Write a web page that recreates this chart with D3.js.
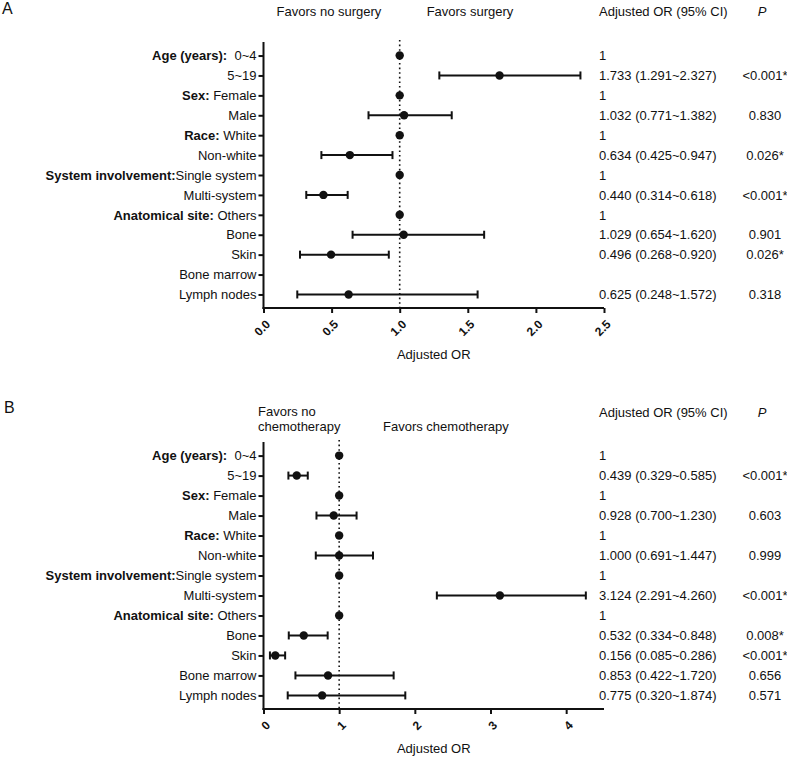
<!DOCTYPE html>
<html>
<head>
<meta charset="utf-8">
<script src="https://cdn.jsdelivr.net/npm/d3@7"></script>
<style>
  body { margin: 0; background: #fff; }
  text { font-family: "Liberation Sans", Arial, sans-serif; fill: #111; }
</style>
</head>
<body>
<script>
// rows shared by both panels
var rowLabels = ["0~4", "5~19", "Female", "Male", "White", "Non-white", "Single system",
                 "Multi-system", "Others", "Bone", "Skin", "Bone marrow", "Lymph nodes"];
var groupLabels = ["Age (years):\u00a0\u00a0", "", "Sex: ", "", "Race: ", "", "System involvement:",
                   "", "Anatomical site: ", "", "", "", ""];

// panel A: surgery (null = not estimated, 1 with null CI = reference)
var orA = [1, 1.733, 1, 1.032, 1, 0.634, 1, 0.440, 1, 1.029, 0.496, null, 0.625];
var loA = [null, 1.291, null, 0.771, null, 0.425, null, 0.314, null, 0.654, 0.268, null, 0.248];
var hiA = [null, 2.327, null, 1.382, null, 0.947, null, 0.618, null, 1.620, 0.920, null, 1.572];
var pA = ["", "<0.001*", "", "0.830", "", "0.026*", "", "<0.001*", "", "0.901", "0.026*", "", "0.318"];
var ticksA = [0, 0.5, 1, 1.5, 2, 2.5];

// panel B: chemotherapy
var orB = [1, 0.439, 1, 0.928, 1, 1.000, 1, 3.124, 1, 0.532, 0.156, 0.853, 0.775];
var loB = [null, 0.329, null, 0.700, null, 0.691, null, 2.291, null, 0.334, 0.085, 0.422, 0.320];
var hiB = [null, 0.585, null, 1.230, null, 1.447, null, 4.260, null, 0.848, 0.286, 1.720, 1.874];
var pB = ["", "<0.001*", "", "0.603", "", "0.999", "", "<0.001*", "", "0.008*", "<0.001*", "0.656", "0.571"];
var ticksB = [0, 1, 2, 3, 4];

var svg = d3.select("body").append("svg")
    .attr("width", 787)
    .attr("height", 757);

var f3 = d3.format(".3f");

function drawPanel(o) {
    var g = svg.append("g");
    var rows = rowLabels.map(function(l, i) {
        return { i: i, label: l, group: groupLabels[i], or: o.or[i], lo: o.lo[i], hi: o.hi[i], p: o.p[i] };
    });

    var x = d3.scaleLinear().domain(o.domain).range(o.xRange);
    var y = d3.scalePoint().domain(d3.range(rows.length)).range(o.yRange).padding(0.68);

    // axes
    var yAxis = g.append("g")
        .attr("transform", "translate(" + o.xRange[0] + ",0)")
        .call(d3.axisLeft(y).tickSize(5).tickFormat("").tickSizeOuter(0));
    var xAxis = g.append("g")
        .attr("transform", "translate(0," + o.yRange[1] + ")")
        .call(d3.axisBottom(x).tickValues(o.ticks).tickSize(5).tickSizeOuter(0).tickFormat(o.fmt));
    [yAxis, xAxis].forEach(function(a) {
        a.select(".domain").attr("stroke", "#111").attr("stroke-width", 2);
        a.selectAll(".tick line").attr("stroke", "#111").attr("stroke-width", 2);
    });
    yAxis.select(".domain").attr("d", "M0," + o.yRange[0] + "V" + (o.yRange[1] + 1));
    xAxis.select(".domain").attr("d", "M" + (o.xRange[0] - 1) + ",0H" + o.xRange[1]);
    xAxis.selectAll(".tick text")
        .attr("font-size", 12)
        .attr("font-weight", "bold")
        .attr("text-anchor", "end")
        .attr("y", 0)
        .attr("dy", "0.35em")
        .attr("transform", "translate(4,14) rotate(-45)");

    g.append("text")
        .attr("x", (o.xRange[0] + o.xRange[1]) / 2)
        .attr("y", o.titleY)
        .attr("text-anchor", "middle")
        .attr("font-size", 13)
        .text("Adjusted OR");

    // reference line at OR = 1
    g.append("line")
        .attr("x1", x(1)).attr("x2", x(1))
        .attr("y1", o.yRange[0] - 2).attr("y2", o.yRange[1])
        .attr("stroke", "#111")
        .attr("stroke-width", 1.6)
        .attr("stroke-dasharray", "1.6,3");

    // row labels
    var lab = g.selectAll(".rowlab")
        .data(rows)
        .enter()
        .append("text")
        .attr("class", "rowlab")
        .attr("x", o.xRange[0] - 7)
        .attr("y", function(d) { return y(d.i); })
        .attr("dy", "0.36em")
        .attr("text-anchor", "end")
        .attr("font-size", 13);
    lab.append("tspan").attr("font-weight", "bold").text(function(d) { return d.group; });
    lab.append("tspan").text(function(d) { return d.label; });

    // error bars
    var ci = rows.filter(function(d) { return d.lo != null; });
    var cig = g.selectAll(".ci").data(ci).enter().append("g").attr("class", "ci")
        .attr("stroke", "#111").attr("stroke-width", 2);
    cig.append("line")
        .attr("x1", function(d) { return x(d.lo); })
        .attr("x2", function(d) { return x(d.hi); })
        .attr("y1", function(d) { return y(d.i); })
        .attr("y2", function(d) { return y(d.i); });
    ["lo", "hi"].forEach(function(k) {
        cig.append("line")
            .attr("x1", function(d) { return x(d[k]); })
            .attr("x2", function(d) { return x(d[k]); })
            .attr("y1", function(d) { return y(d.i) - 4; })
            .attr("y2", function(d) { return y(d.i) + 4; });
    });

    // points
    g.selectAll(".pt")
        .data(rows.filter(function(d) { return d.or != null; }))
        .enter()
        .append("circle")
        .attr("class", "pt")
        .attr("cx", function(d) { return x(d.or); })
        .attr("cy", function(d) { return y(d.i); })
        .attr("r", 4.2)
        .attr("fill", "#111");

    // OR (95% CI) and P columns
    g.selectAll(".ortxt")
        .data(rows)
        .enter()
        .append("text")
        .attr("class", "ortxt")
        .attr("x", 599)
        .attr("y", function(d) { return y(d.i); })
        .attr("dy", "0.36em")
        .attr("font-size", 13)
        .text(function(d) {
            if (d.or == null) return "";
            if (d.lo == null) return "1";
            return f3(d.or) + " (" + f3(d.lo) + "~" + f3(d.hi) + ")";
        });
    g.selectAll(".ptxt")
        .data(rows)
        .enter()
        .append("text")
        .attr("class", "ptxt")
        .attr("x", 765)
        .attr("y", function(d) { return y(d.i); })
        .attr("dy", "0.36em")
        .attr("text-anchor", "middle")
        .attr("font-size", 13)
        .text(function(d) { return d.p; });

    // headers
    g.append("text").attr("x", 599).attr("y", o.headY).attr("font-size", 13).text("Adjusted OR (95% CI)");
    g.append("text").attr("x", 762).attr("y", o.headY).attr("font-size", 13)
        .attr("text-anchor", "middle").attr("font-style", "italic").text("P");
    g.append("text").attr("x", o.letterY[0]).attr("y", o.letterY[1])
        .attr("font-size", 16).text(o.letter);

    return g;
}

var gA = drawPanel({
    or: orA, lo: loA, hi: hiA, p: pA,
    domain: [0, 2.5], xRange: [263.5, 604], yRange: [42, 308],
    ticks: ticksA, fmt: d3.format(".1f"), titleY: 359,
    headY: 16, letter: "A", letterY: [2, 14]
});
gA.append("text").attr("x", 329).attr("y", 16).attr("text-anchor", "middle")
    .attr("font-size", 13).text("Favors no surgery");
gA.append("text").attr("x", 470).attr("y", 16).attr("text-anchor", "middle")
    .attr("font-size", 13).text("Favors surgery");

var gB = drawPanel({
    or: orB, lo: loB, hi: hiB, p: pB,
    domain: [0, 4.5], xRange: [263.5, 604], yRange: [442, 709],
    ticks: ticksB, fmt: d3.format("d"), titleY: 753,
    headY: 417, letter: "B", letterY: [4, 413]
});
gB.append("text").attr("x", 258).attr("y", 416).attr("font-size", 13).text("Favors no");
gB.append("text").attr("x", 258).attr("y", 431).attr("font-size", 13).text("chemotherapy");
gB.append("text").attr("x", 383).attr("y", 431).attr("font-size", 13).text("Favors chemotherapy");
</script>
</body>
</html>
